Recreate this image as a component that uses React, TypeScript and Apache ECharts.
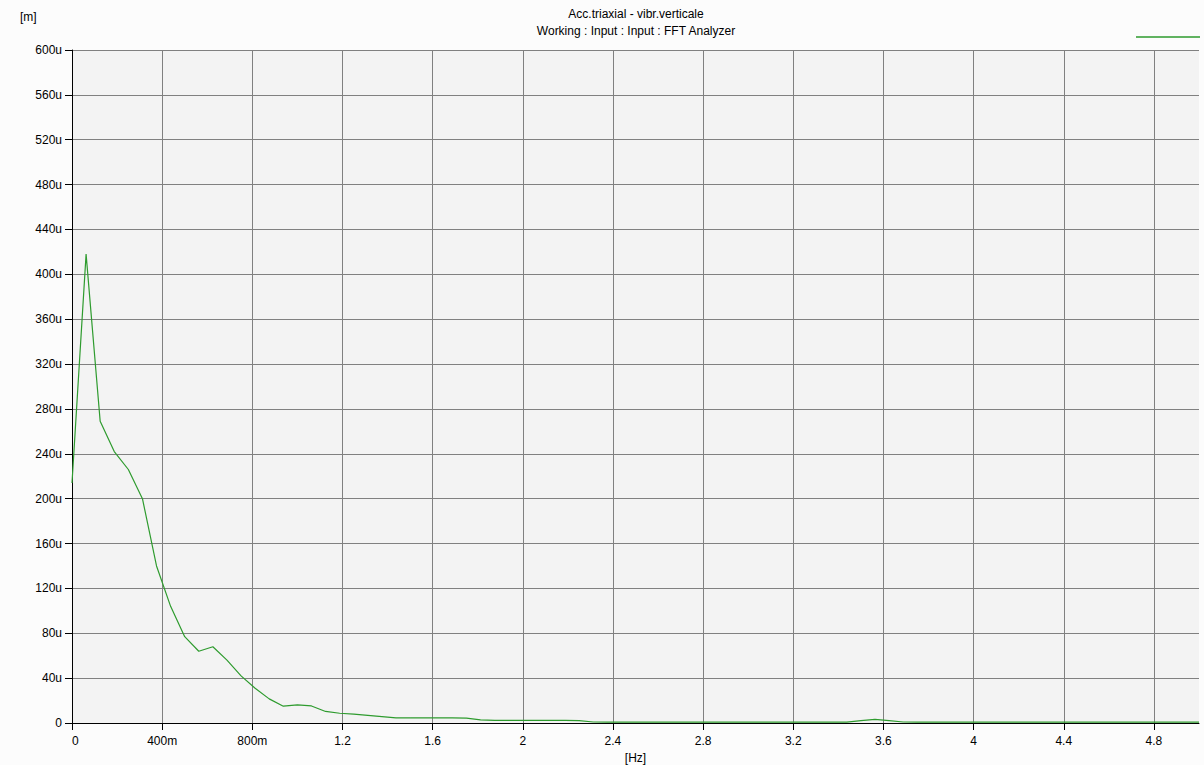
import React, { useEffect, useRef } from "react";
import * as echarts from "echarts";

// Frequency bins [Hz]
const FREQ_HZ = [
  0, 0.0625, 0.125, 0.1875, 0.25, 0.3125, 0.375, 0.4375, 0.5, 0.5625,
  0.625, 0.6875, 0.75, 0.8125, 0.875, 0.9375, 1.0, 1.0625, 1.125, 1.1875,
  1.25, 1.3125, 1.375, 1.4375, 1.5, 1.5625, 1.625, 1.6875, 1.75, 1.8125,
  1.875, 1.9375, 2.0, 2.0625, 2.125, 2.1875, 2.25, 2.3125, 2.375, 2.4375,
  2.5, 2.5625, 2.625, 2.6875, 2.75, 2.8125, 2.875, 2.9375, 3.0, 3.0625,
  3.125, 3.1875, 3.25, 3.3125, 3.375, 3.4375, 3.5, 3.5625, 3.625, 3.6875,
  3.75, 3.8125, 3.875, 3.9375, 4.0, 4.0625, 4.125, 4.1875, 4.25, 4.3125,
  4.375, 4.4375, 4.5, 4.5625, 4.625, 4.6875, 4.75, 4.8125, 4.875, 4.9375,
  5.0,
];

// Amplitude [u = micro]
const AMPLITUDE_U = [
  214, 418, 269, 242, 226, 200, 140, 104, 77, 64,
  68, 56, 42, 31, 21.5, 15, 16.2, 15.2, 10.3, 8.7,
  7.9, 6.8, 5.7, 4.6, 4.5, 4.5, 4.5, 4.5, 4.4, 2.8,
  2.3, 2.3, 2.3, 2.3, 2.3, 2.3, 2.2, 0.9, 0.8, 0.8,
  0.8, 0.8, 0.8, 0.8, 0.8, 0.8, 0.8, 0.8, 0.8, 0.8,
  0.8, 0.8, 0.8, 0.8, 0.8, 0.8, 2.1, 3.3, 2.1, 0.9,
  0.8, 0.8, 0.8, 0.8, 0.8, 0.8, 0.8, 0.8, 0.8, 0.8,
  0.8, 0.8, 0.8, 0.8, 0.8, 0.8, 0.8, 0.8, 0.8, 0.8,
  0.8,
];

const X_TICKS = [0, 0.4, 0.8, 1.2, 1.6, 2, 2.4, 2.8, 3.2, 3.6, 4, 4.4, 4.8];

const TITLE = "Acc.triaxial - vibr.verticale";
const SUBTITLE = "Working : Input : Input : FFT Analyzer";
const Y_UNIT = "[m]";
const X_UNIT = "[Hz]";

const FONT = "'Liberation Sans', Arial, sans-serif";

function fmtHz(v: number): string {
  if (v > 0 && v < 1) return Math.round(v * 1000) + "m";
  return String(Math.round(v * 100) / 100);
}

export default function App() {
  const ref = useRef<HTMLDivElement>(null);

  useEffect(() => {
    if (!ref.current) return;
    const chart = echarts.init(ref.current, undefined, { renderer: "svg" });
    const data = FREQ_HZ.map((f, i) => [f, AMPLITUDE_U[i]]);

    chart.setOption({
      animation: false,
      backgroundColor: "#fcfcfc",
      textStyle: { fontFamily: FONT },
      title: {
        text: TITLE,
        subtext: SUBTITLE,
        left: 636,
        top: 8,
        padding: 0,
        itemGap: 5,
        textAlign: "center",
        textStyle: { fontSize: 12, fontWeight: "normal", color: "#000", fontFamily: FONT },
        subtextStyle: { fontSize: 12, color: "#000", fontFamily: FONT },
      },
      grid: {
        left: 72,
        right: 5,
        top: 50,
        bottom: 42,
        containLabel: false,
        outerBoundsMode: "none",
        show: true,
        backgroundColor: "#f3f3f3",
        borderWidth: 0,
      },
      xAxis: {
        type: "value",
        min: 0,
        max: 5,
        interval: 0.4,
        name: X_UNIT,
        nameLocation: "middle",
        nameGap: 28,
        nameTextStyle: { fontSize: 12, color: "#000", fontFamily: FONT },
        axisLine: { show: true, onZero: false, lineStyle: { color: "#000", width: 1 } },
        axisTick: { show: true, length: 7, lineStyle: { color: "#000" }, customValues: X_TICKS },
        axisLabel: {
          fontSize: 12,
          color: "#000",
          margin: 12,
          fontFamily: FONT,
          customValues: X_TICKS,
          alignMinLabel: "left",
          formatter: (v: number) => fmtHz(v),
        },
        splitLine: { show: true, lineStyle: { color: "#808080", width: 1 } },
      },
      yAxis: {
        type: "value",
        min: 0,
        max: 600,
        interval: 40,
        axisLine: { show: true, onZero: false, lineStyle: { color: "#000", width: 1 } },
        axisTick: { show: true, length: 7, lineStyle: { color: "#000" } },
        axisLabel: {
          fontSize: 12,
          color: "#000",
          margin: 10,
          fontFamily: FONT,
          formatter: (v: number) => (v === 0 ? "0" : v + "u"),
        },
        splitLine: { show: true, lineStyle: { color: "#808080", width: 1 } },
      },
      graphic: [
        {
          type: "text",
          left: 20,
          top: 11,
          style: { text: Y_UNIT, fontSize: 12, fill: "#000", fontFamily: FONT },
        },
        {
          type: "line",
          shape: { x1: 1136, y1: 37, x2: 1200, y2: 37 },
          style: { stroke: "#2e9b2e", lineWidth: 1.5 },
        },
      ],
      series: [
        {
          type: "line",
          data,
          showSymbol: false,
          symbol: "none",
          lineStyle: { color: "#2e9b2e", width: 1.2 },
          itemStyle: { color: "#2e9b2e" },
          z: 3,
        },
      ],
    });

    return () => chart.dispose();
  }, []);

  return (
    <div
      ref={ref}
      style={{ position: "fixed", left: 0, top: 0, width: 1204, height: 765, background: "#fcfcfc" }}
    />
  );
}
